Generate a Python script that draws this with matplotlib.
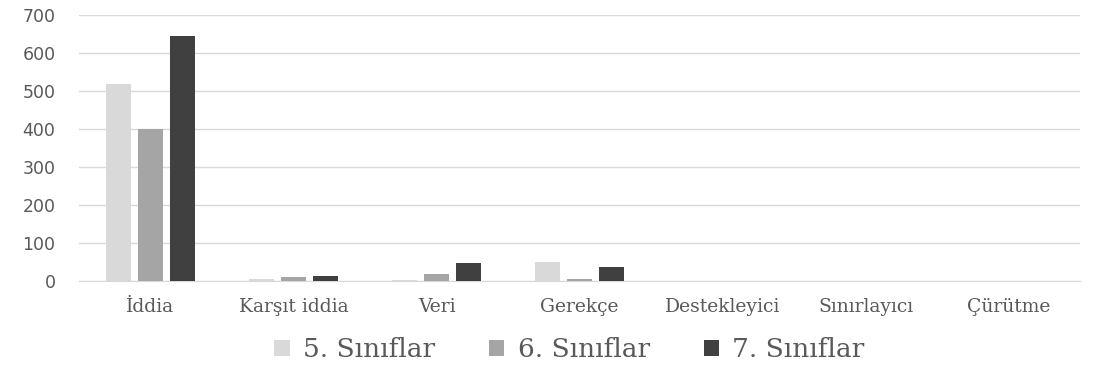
import matplotlib
matplotlib.use("Agg")
import matplotlib.pyplot as plt
import numpy as np

categories = ["İddia", "Karşıt iddia", "Veri", "Gerekçe", "Destekleyici", "Sınırlayıcı", "Çürütme"]
series_names = ["5. Sınıflar", "6. Sınıflar", "7. Sınıflar"]
grade5 = [518, 5, 3, 50, 0, 0, 0]
grade6 = [400, 11, 18, 6, 0, 0, 0]
grade7 = [645, 14, 47, 36, 0, 0, 0]
y_ticks = [0, 100, 200, 300, 400, 500, 600, 700]

colors = ["#d9d9d9", "#a5a5a5", "#404040"]
text_color = "#595959"

fig = plt.figure(figsize=(10.93, 3.67), dpi=100)
ax = fig.add_axes([0.0723, 0.234, 0.916, 0.725])

x = np.arange(len(categories))
offset = 0.224
width = 0.17
for i, (vals, name, c) in enumerate(zip([grade5, grade6, grade7], series_names, colors)):
    ax.bar(x + (i - 1) * offset, vals, width=width, color=c, label=name, zorder=3)

ax.set_xlim(-0.5, len(categories) - 0.5)
ax.set_ylim(0, 700)
ax.set_yticks(y_ticks)
ax.yaxis.grid(True, color="#d9d9d9", linewidth=1.0, zorder=0)
ax.set_axisbelow(True)
for s in ["top", "right", "left"]:
    ax.spines[s].set_visible(False)
ax.spines["bottom"].set_color("#d9d9d9")
ax.tick_params(axis="both", length=0)
ax.tick_params(axis="y", pad=17, labelcolor=text_color, labelsize=12.5)
for lbl in ax.get_yticklabels():
    lbl.set_family("DejaVu Sans")

ax.set_xticks(x)
ax.set_xticklabels(categories, family="DejaVu Serif", fontsize=13.5, color=text_color)
ax.tick_params(axis="x", pad=12)

leg = fig.legend(loc="center", bbox_to_anchor=(0.521, 0.047), ncol=3, frameon=False,
                 prop={"family": "DejaVu Serif", "size": 19},
                 handlelength=0.58, handleheight=0.58, handletextpad=0.5, columnspacing=2.05)
for t in leg.get_texts():
    t.set_color(text_color)

fig.savefig("out.png", dpi=100)
